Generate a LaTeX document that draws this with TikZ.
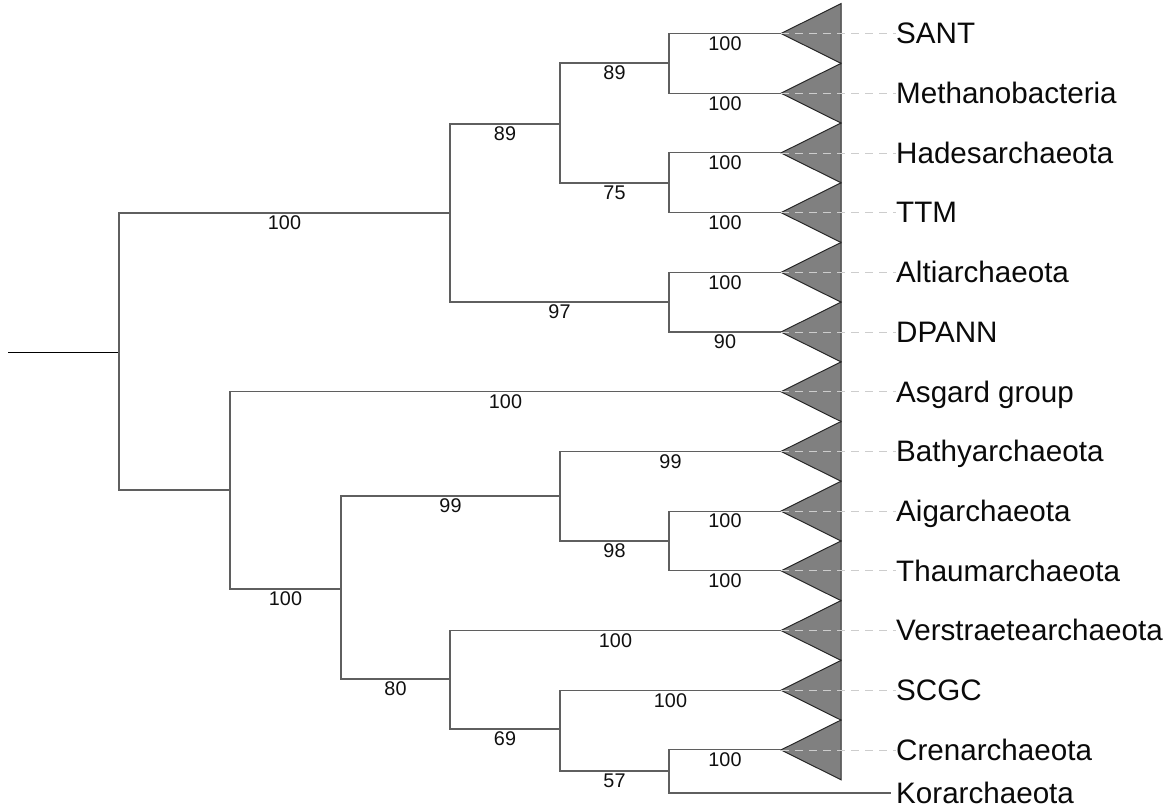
\documentclass[tikz,border=0pt]{standalone}
\usepackage{fontspec}
\setmainfont{Liberation Sans}
\begin{document}
\begin{tikzpicture}[x=1pt,y=-1pt,
  branch/.style={draw={rgb,255:red,95;green,95;blue,95},line width=1.1pt},
  support/.style={pos=0.75,yshift=-10pt,anchor=center,inner sep=0pt,
    font=\fontsize{19.8}{23}\selectfont,text={rgb,255:red,15;green,15;blue,15}},
  clade/.style={fill={rgb,255:red,128;green,128;blue,128},draw={rgb,255:red,40;green,40;blue,40},line width=1pt,line join=miter},
  taxon/.style={anchor=base west,inner sep=0pt,font=\fontsize{29.6}{34}\selectfont,text={rgb,255:red,10;green,10;blue,10}},
  leader/.style={draw={rgb,255:red,205;green,205;blue,205},line width=0.8pt,dash pattern=on 8pt off 6pt}]
\useasboundingbox (0,0) rectangle (1175,809);

% internal nodes
\coordinate (root) at (8,352);
\coordinate (A) at (119,352);
\coordinate (B) at (450,213);
\coordinate (C) at (560,124);
\coordinate (D) at (669,63);
\coordinate (E) at (669,183);
\coordinate (F) at (669,302);
\coordinate (G) at (230,490);
\coordinate (H) at (341,589);
\coordinate (I) at (560,496);
\coordinate (J) at (669,541);
\coordinate (K) at (450,679);
\coordinate (L) at (560,729);
\coordinate (M) at (669,771);

% collapsed clades: apex, triangle and label
\foreach \n/\y/\name in {1/33.5/SANT,2/93.2/Methanobacteria,3/152.9/Hadesarchaeota,
  4/212.6/TTM,5/272.3/Altiarchaeota,6/332/DPANN,7/391.7/Asgard group,
  8/451.4/Bathyarchaeota,9/511.1/Aigarchaeota,10/570.8/Thaumarchaeota,
  11/630.5/Verstraetearchaeota,12/690.2/SCGC,13/749.9/Crenarchaeota}{
  \coordinate (t\n) at (781,\y);
  \node[taxon] (lab\n) at (896,\y+10.3) {\name};
  \draw[clade] (t\n) -- (841,\y-29.85) -- (841,\y+29.85) -- cycle;
}
\coordinate (t14) at (891,793);
\node[taxon] (lab14) at (896,803.3) {Korarchaeota};

% leader lines from clades to names
\foreach \n in {1,...,13}{
  \draw[leader] (t\n) -- (t\n -| lab\n.west);
}

% branches
\draw[branch,draw=black,line width=1pt] (root) -- (A);
\draw[branch] (A) |- (B) node[support] {100};
\draw[branch] (A) |- (G);
\draw[branch] (B) |- (C) node[support] {89};
\draw[branch] (B) |- (F) node[support] {97};
\draw[branch] (C) |- (D) node[support] {89};
\draw[branch] (C) |- (E) node[support] {75};
\draw[branch] (D) |- (t1) node[support] {100};
\draw[branch] (D) |- (t2) node[support] {100};
\draw[branch] (E) |- (t3) node[support] {100};
\draw[branch] (E) |- (t4) node[support] {100};
\draw[branch] (F) |- (t5) node[support] {100};
\draw[branch] (F) |- (t6) node[support] {90};
\draw[branch] (G) |- (t7) node[support] {100};
\draw[branch] (G) |- (H) node[support] {100};
\draw[branch] (H) |- (I) node[support] {99};
\draw[branch] (H) |- (K) node[support] {80};
\draw[branch] (I) |- (t8) node[support] {99};
\draw[branch] (I) |- (J) node[support] {98};
\draw[branch] (J) |- (t9) node[support] {100};
\draw[branch] (J) |- (t10) node[support] {100};
\draw[branch] (K) |- (t11) node[support] {100};
\draw[branch] (K) |- (L) node[support] {69};
\draw[branch] (L) |- (t12) node[support] {100};
\draw[branch] (L) |- (M) node[support] {57};
\draw[branch] (M) |- (t13) node[support] {100};
\draw[branch] (M) |- (t14);
\end{tikzpicture}
\end{document}
